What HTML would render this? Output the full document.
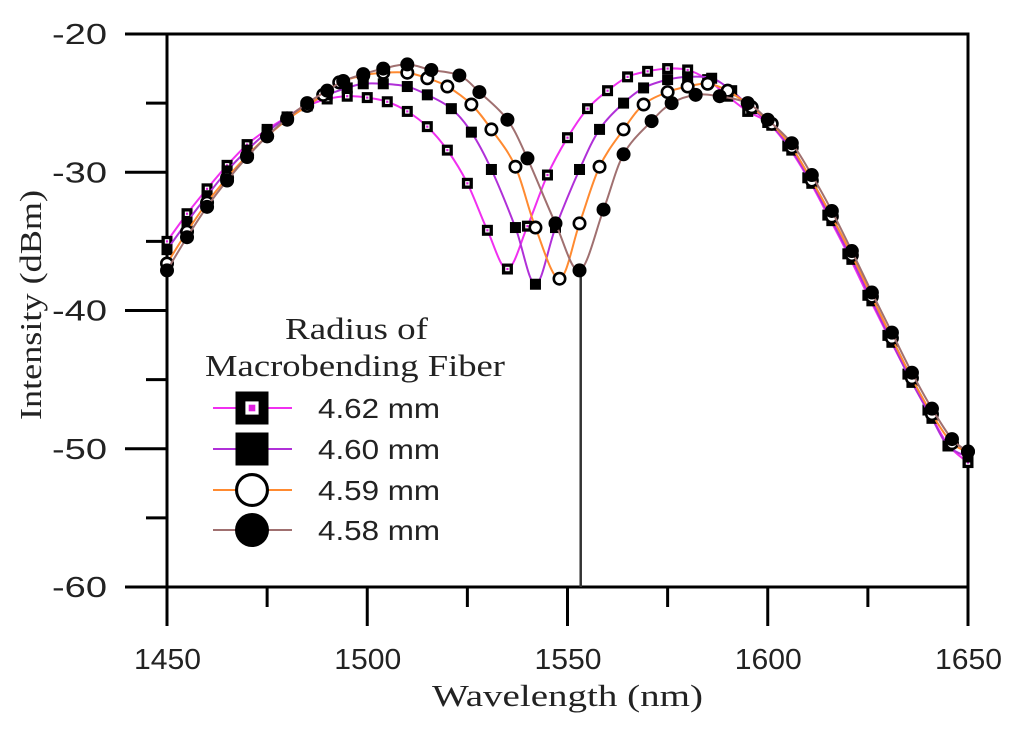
<!DOCTYPE html>
<html><head><meta charset="utf-8"><style>
body{margin:0;background:#fff;}
svg{display:block;}
text{fill:#222;}
</style></head><body>
<svg id="chart" width="1024" height="731" viewBox="0 0 1024 731" xmlns="http://www.w3.org/2000/svg">
<g id="axes"></g>
<g id="series"></g>
<g id="legend">
<text x="285" y="339" textLength="143" lengthAdjust="spacingAndGlyphs" font-family="Liberation Serif, serif" font-size="31">Radius of</text>
<text x="205" y="376" textLength="300" lengthAdjust="spacingAndGlyphs" font-family="Liberation Serif, serif" font-size="31">Macrobending Fiber</text>
</g>
<text x="432" y="706" textLength="271" lengthAdjust="spacingAndGlyphs" font-family="Liberation Serif, serif" font-size="31">Wavelength (nm)</text>
<text transform="translate(41,420) rotate(-90)" textLength="230" lengthAdjust="spacingAndGlyphs" font-family="Liberation Serif, serif" font-size="31">Intensity (dBm)</text>
</svg>
<script>
const xTicks=[1450,1500,1550,1600,1650];
const xMinor=[1475,1525,1575,1625];
const yTicks=[-20,-30,-40,-50,-60];
const yMinor=[-25,-35,-45,-55];
const seriesNames=["4.62 mm","4.60 mm","4.59 mm","4.58 mm"];
const wlA=[1450,1455,1460,1465,1470,1475,1480,1485,1490,1495,1500,1505,1510,1515,1520,1525,1530,1535,1540,1545,1550,1555,1560,1565,1570,1575,1580,1585,1590,1595,1600,1605,1610,1615,1620,1625,1630,1635,1640,1645,1650];
const valA=[-35.0,-33.0,-31.2,-29.5,-28.0,-26.9,-26.0,-25.2,-24.7,-24.5,-24.6,-24.9,-25.6,-26.7,-28.4,-30.8,-34.2,-37.0,-33.9,-30.2,-27.5,-25.4,-24.1,-23.1,-22.7,-22.5,-22.6,-23.3,-24.5,-25.6,-26.4,-28.1,-30.4,-33.1,-35.9,-38.9,-41.8,-44.6,-47.2,-49.7,-51.0];
const wlB=[1450,1455,1460,1465,1470,1475,1480,1485,1490,1495,1499,1504,1510,1515,1521,1526,1531,1537,1542,1547,1553,1558,1564,1569,1575,1580,1586,1591,1596,1601,1606,1611,1616,1621,1626,1631,1636,1641,1645,1650];
const valB=[-35.6,-33.6,-31.7,-29.9,-28.4,-27.1,-26.0,-25.1,-24.4,-23.9,-23.6,-23.6,-23.8,-24.4,-25.4,-27.1,-29.8,-34.0,-38.1,-34.0,-29.8,-26.9,-25.0,-23.9,-23.3,-23.1,-23.2,-24.1,-25.4,-26.6,-28.4,-30.8,-33.5,-36.3,-39.3,-42.3,-45.2,-47.8,-49.8,-50.6];
const wlC=[1450,1455,1460,1465,1470,1475,1480,1485,1489,1493,1499,1504,1510,1515,1520,1526,1531,1537,1542,1548,1553,1558,1564,1569,1575,1580,1585,1590,1596,1601,1606,1611,1616,1621,1626,1631,1636,1641,1646,1650];
const valC=[-36.6,-34.3,-32.2,-30.4,-28.8,-27.4,-26.2,-25.2,-24.4,-23.5,-23.0,-22.8,-22.8,-23.2,-23.8,-25.1,-26.9,-29.6,-34.0,-37.7,-33.7,-29.6,-26.9,-25.1,-24.2,-23.8,-23.6,-24.1,-25.3,-26.5,-28.2,-30.6,-33.2,-36.0,-39.0,-42.0,-44.9,-47.5,-49.6,-50.2];
const wlD=[1450,1455,1460,1465,1470,1475,1480,1485,1490,1494,1499,1504,1510,1516,1523,1528,1535,1540,1547,1553,1559,1564,1571,1576,1582,1588,1595,1600,1606,1611,1616,1621,1626,1631,1636,1641,1646,1650];
const valD=[-37.1,-34.7,-32.5,-30.6,-28.9,-27.4,-26.1,-25.0,-24.1,-23.4,-22.9,-22.5,-22.2,-22.6,-23.0,-24.2,-26.2,-29.0,-33.7,-37.1,-32.7,-28.7,-26.3,-25.0,-24.4,-24.5,-25.0,-26.2,-27.9,-30.2,-32.8,-35.7,-38.7,-41.6,-44.5,-47.1,-49.3,-50.2];
const spikeWl=[1553.3];
const spikeTop=[-37.1];

const X0=167,X1=968,Y0=34,Y1=587;
const xs=w=>X0+(w-1450)/(1650-1450)*(X1-X0);
const ys=v=>Y0+(-20-v)/(40)*(Y1-Y0);
const NS="http://www.w3.org/2000/svg";
function mk(tag,attrs,parent){const e=document.createElementNS(NS,tag);for(const k in attrs)e.setAttribute(k,attrs[k]);parent.appendChild(e);return e;}
const axes=document.getElementById('axes');
const ser=document.getElementById('series');
const leg=document.getElementById('legend');

let f=mk('path',{d:`M${X0},${Y1}V${Y0}H${X1}V${Y1}`,fill:'none',stroke:'#000','stroke-width':3},axes);

let xa=mk('line',{x1:125,y1:Y1,x2:X1+1,y2:Y1,stroke:'#000','stroke-width':3},axes);

xTicks.forEach(t=>{
 let l=mk('line',{x1:xs(t),y1:Y1,x2:xs(t),y2:Y1+39,stroke:'#000','stroke-width':3},axes);
 
 let tx=mk('text',{x:xs(t)-33,y:669,'font-family':'Liberation Sans, sans-serif','font-size':29,textLength:67,lengthAdjust:'spacingAndGlyphs'},axes);
 tx.textContent=t;
 
});
xMinor.forEach(t=>{
 let l=mk('line',{x1:xs(t),y1:Y1,x2:xs(t),y2:Y1+20,stroke:'#000','stroke-width':3},axes);
 
});
yTicks.forEach(t=>{
 let l=mk('line',{x1:125,y1:ys(t),x2:X0,y2:ys(t),stroke:'#000','stroke-width':3},axes);
 
 let tx=mk('text',{x:52,y:ys(t)+10,'font-family':'Liberation Sans, sans-serif','font-size':29,textLength:55,lengthAdjust:'spacingAndGlyphs'},axes);
 tx.textContent=t;
 
});
yMinor.forEach(t=>{
 let l=mk('line',{x1:146,y1:ys(t),x2:X0,y2:ys(t),stroke:'#000','stroke-width':3},axes);
 
});

spikeWl.forEach((w,i)=>{
 let l=mk('line',{x1:xs(w),y1:ys(spikeTop[i]),x2:xs(w),y2:Y1,stroke:'#333','stroke-width':2.5},ser);
 
});

function smooth(pts){
 let d=`M${pts[0][0]},${pts[0][1]}`;
 for(let i=0;i<pts.length-1;i++){
  const p0=pts[Math.max(i-1,0)],p1=pts[i],p2=pts[i+1],p3=pts[Math.min(i+2,pts.length-1)];
  const c1=[p1[0]+(p2[0]-p0[0])/6,p1[1]+(p2[1]-p0[1])/6];
  const c2=[p2[0]-(p3[0]-p1[0])/6,p2[1]-(p3[1]-p1[1])/6];
  d+=`C${c1[0]},${c1[1]} ${c2[0]},${c2[1]} ${p2[0]},${p2[1]}`;
 }
 return d;
}
function marker(type,x,y,s,parent){
 let e;
 if(type==='sqopen'){
  e=mk('g',{},parent);
  mk('rect',{x:x-s/2,y:y-s/2,width:s,height:s,fill:'#000'},e);
  mk('rect',{x:x-s/5,y:y-s/5,width:s*0.4,height:s*0.4,fill:'#fff'},e);
  mk('rect',{x:x-s/10,y:y-s/10,width:s*0.2,height:s*0.2,fill:'#e020e0'},e);
 }else if(type==='sq'){
  e=mk('rect',{x:x-s/2,y:y-s/2,width:s,height:s,fill:'#000'},parent);
 }else if(type==='circopen'){
  const sw=Math.max(2.6,s/11);
  e=mk('circle',{cx:x,cy:y,r:s/2-sw/2,fill:'#fff',stroke:'#000','stroke-width':sw},parent);
 }else{
  e=mk('circle',{cx:x,cy:y,r:s/2,fill:'#000'},parent);
 }
 return e;
}
const defs=[
 {wl:wlA,v:valA,color:'#f030f0',m:'sqopen',s:11},
 {wl:wlB,v:valB,color:'#b030d8',m:'sq',s:11},
 {wl:wlC,v:valC,color:'#ff8a30',m:'circopen',s:14},
 {wl:wlD,v:valD,color:'#a07070',m:'circ',s:14}
];
defs.forEach((sd,si)=>{
 const g=mk('g',{},ser);
 
 
 const pts=sd.wl.map((w,i)=>[xs(w),ys(sd.v[i])]);
 const p=mk('path',{d:smooth(pts),fill:'none',stroke:sd.color,'stroke-width':2},g);
 
 pts.forEach(pt=>{
  const m=marker(sd.m,pt[0],pt[1],sd.s,g);
  
  
 });
 const ly=[408,449,490,530][si];
 const lg=mk('g',{},leg);
 
 
 mk('line',{x1:213,y1:ly,x2:292,y2:ly,stroke:sd.color,'stroke-width':2},lg);
 marker(sd.m,252,ly,sd.m.startsWith('sq')?33:34,lg);
 const t=mk('text',{x:318,y:ly+10,'font-family':'Liberation Sans, sans-serif','font-size':28,textLength:122,lengthAdjust:'spacingAndGlyphs'},lg);
 t.textContent=seriesNames[si];
 
 
});
</script>
</body></html>
